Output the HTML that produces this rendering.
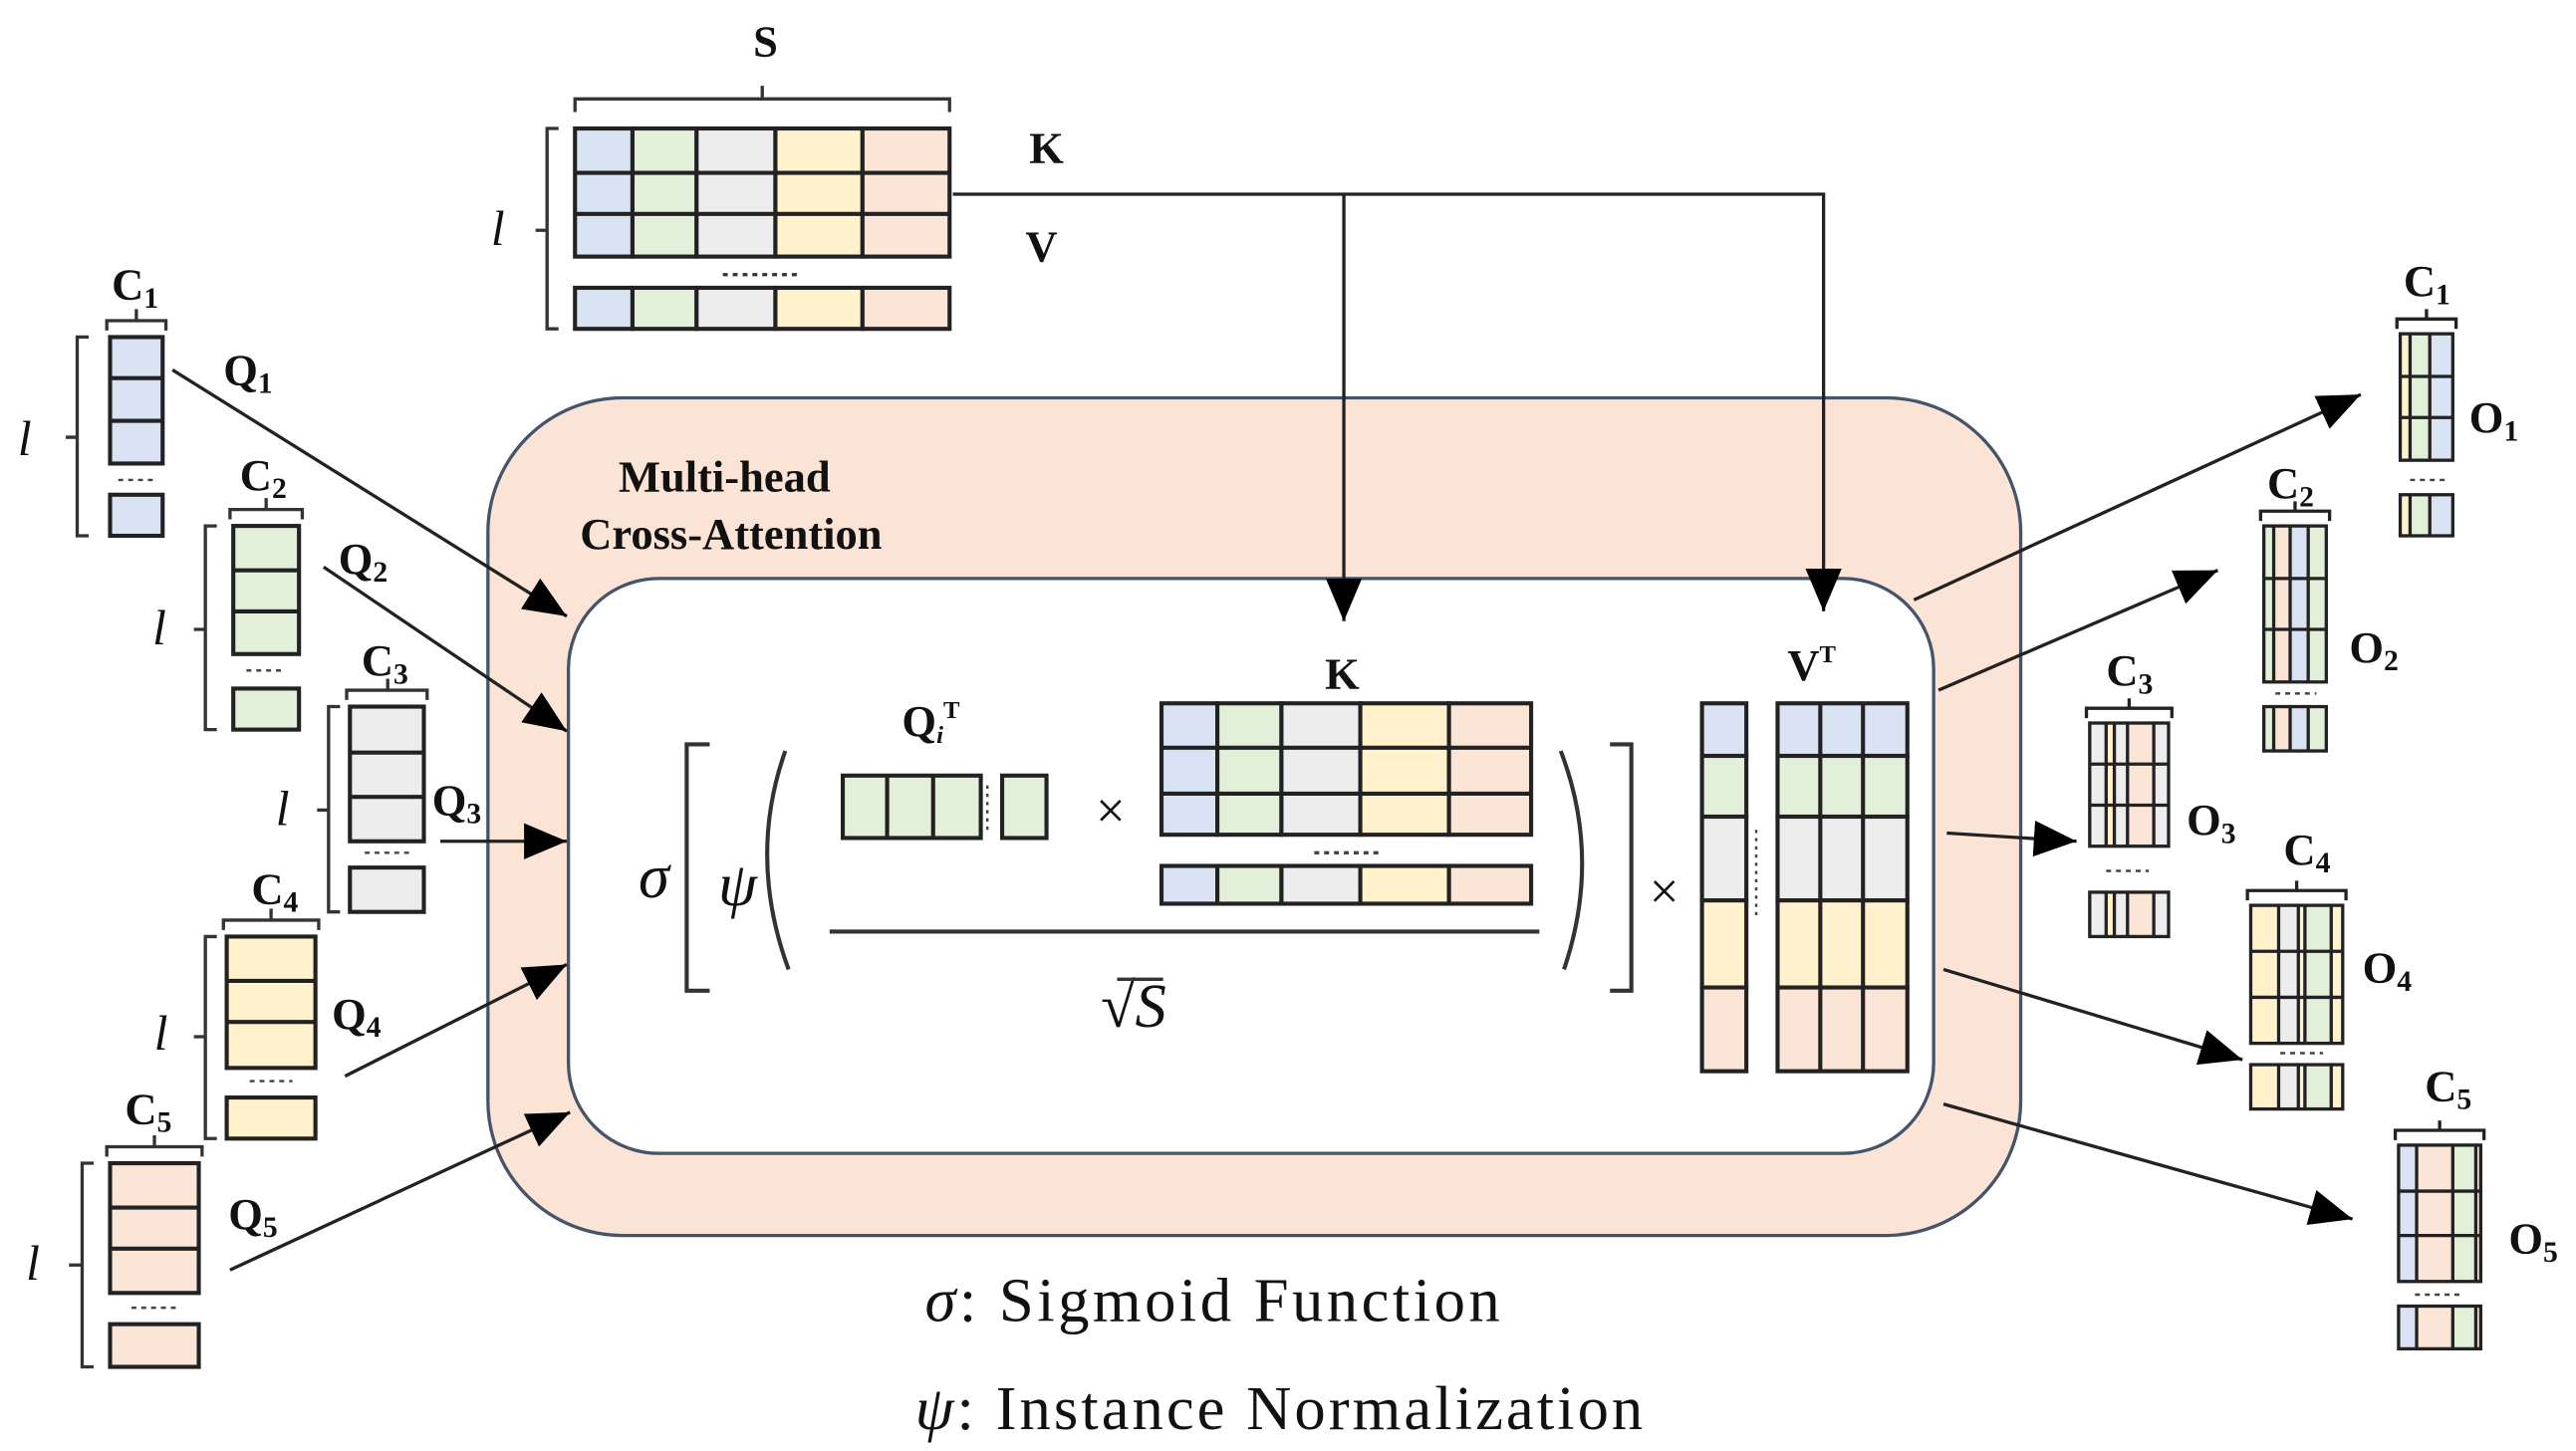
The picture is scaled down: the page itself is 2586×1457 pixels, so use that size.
<!DOCTYPE html>
<html><head><meta charset="utf-8"><style>
html,body{margin:0;padding:0;background:#fff}
svg{display:block}
text{font-family:"Liberation Serif",serif;fill:#111}
.b{font-weight:bold}
</style></head><body>
<svg width="2586" height="1457" viewBox="0 0 1568 883" xmlns="http://www.w3.org/2000/svg">
<defs>
<marker id="ah" markerUnits="userSpaceOnUse" markerWidth="30" markerHeight="24" refX="26" refY="11" orient="auto">
<path d="M0,0 L26,11 L0,22 Z" fill="#000"/></marker>
</defs>
<g stroke="#222" stroke-width="2" fill="none">
<rect x="297" y="242" width="933" height="510" rx="82" fill="#fbe4d5" stroke="#44546a"/>
<rect x="346" y="352" width="831" height="350" rx="55" fill="#fff" stroke="#44546a"/>
</g>

<g stroke="#222" stroke-width="2.5">
<rect x="350" y="78" width="35" height="78" fill="#dae3f3"/><rect x="385" y="78" width="39" height="78" fill="#e2f0d9"/><rect x="424" y="78" width="48" height="78" fill="#ededed"/><rect x="472" y="78" width="53" height="78" fill="#fff2cc"/><rect x="525" y="78" width="53" height="78" fill="#fbe5d6"/>
<line x1="350" y1="105" x2="578" y2="105"/><line x1="350" y1="130" x2="578" y2="130"/>
<rect x="350" y="175" width="35" height="25" fill="#dae3f3"/><rect x="385" y="175" width="39" height="25" fill="#e2f0d9"/><rect x="424" y="175" width="48" height="25" fill="#ededed"/><rect x="472" y="175" width="53" height="25" fill="#fff2cc"/><rect x="525" y="175" width="53" height="25" fill="#fbe5d6"/>
</g>
<line x1="440" y1="167" x2="485" y2="167" stroke="#333" stroke-width="2" stroke-dasharray="3,3"/>
<path d="M350,68 V60 H578 V68 M464,60 V52" stroke="#333" stroke-width="2" fill="none"/>
<path d="M340,78 H333 V200 H340 M326,140 H333" stroke="#333" stroke-width="2" fill="none"/>
<text x="466" y="34" font-size="27" class="b" text-anchor="middle">S</text>
<text x="303" y="149" font-size="30" font-style="italic" text-anchor="middle">l</text>
<text x="637" y="99" font-size="27" class="b" text-anchor="middle">K</text>
<text x="634" y="159" font-size="27" class="b" text-anchor="middle">V</text>

<g stroke="#222" stroke-width="2" fill="none">
<path d="M580,118 H1110 V372" marker-end="url(#ah)"/>
<path d="M818,118 V378" marker-end="url(#ah)"/>
</g>

<text x="441" y="299" font-size="27" class="b" text-anchor="middle">Multi-head</text>
<text x="445" y="334" font-size="27" class="b" text-anchor="middle">Cross-Attention</text>

<g stroke="#222" stroke-width="2.5">
<rect x="67" y="205" width="32" height="77" fill="#dae3f3"/><line x1="67" y1="230" x2="99" y2="230"/><line x1="67" y1="256" x2="99" y2="256"/>
<rect x="67" y="301" width="32" height="25" fill="#dae3f3"/>
<rect x="142" y="320" width="40" height="78" fill="#e2f0d9"/><line x1="142" y1="347" x2="182" y2="347"/><line x1="142" y1="372" x2="182" y2="372"/>
<rect x="142" y="419" width="40" height="25" fill="#e2f0d9"/>
<rect x="213" y="430" width="45" height="82" fill="#ededed"/><line x1="213" y1="458" x2="258" y2="458"/><line x1="213" y1="485" x2="258" y2="485"/>
<rect x="213" y="528" width="45" height="27" fill="#ededed"/>
<rect x="138" y="570" width="54" height="80" fill="#fff2cc"/><line x1="138" y1="597" x2="192" y2="597"/><line x1="138" y1="622" x2="192" y2="622"/>
<rect x="138" y="668" width="54" height="25" fill="#fff2cc"/>
<rect x="67" y="708" width="54" height="79" fill="#fbe5d6"/><line x1="67" y1="735" x2="121" y2="735"/><line x1="67" y1="760" x2="121" y2="760"/>
<rect x="67" y="806" width="54" height="26" fill="#fbe5d6"/>
</g>
<g stroke="#333" stroke-width="2" fill="none">
<path d="M65,201 V195 H101 V201 M83,195 V188"/><path d="M54,205 H47 V326 H54 M40,266 H47"/>
<path d="M140,316 V310 H184 V316 M162,310 V303"/><path d="M132,320 H125 V444 H132 M118,383 H125"/>
<path d="M211,426 V420 H260 V426 M236,420 V413"/><path d="M207,430 H200 V555 H207 M193,493 H200"/>
<path d="M136,566 V560 H194 V566 M165,560 V553"/><path d="M132,570 H125 V693 H132 M118,631 H125"/>
<path d="M65,704 V698 H123 V704 M94,698 V691"/><path d="M57,708 H50 V832 H57 M42,770 H50"/>
</g>
<g stroke="#444" stroke-width="1.5" stroke-dasharray="3,3">
<line x1="72" y1="292" x2="94" y2="292"/><line x1="150" y1="408" x2="174" y2="408"/><line x1="222" y1="519" x2="250" y2="519"/><line x1="152" y1="658" x2="178" y2="658"/><line x1="80" y1="796" x2="108" y2="796"/>
</g>
<g font-size="27" class="b">
<text x="68" y="182" class="b">C<tspan font-size="18" dy="5">1</tspan></text>
<text x="146" y="298" class="b">C<tspan font-size="18" dy="5">2</tspan></text>
<text x="220" y="411" class="b">C<tspan font-size="18" dy="5">3</tspan></text>
<text x="153" y="550" class="b">C<tspan font-size="18" dy="5">4</tspan></text>
<text x="76" y="684" class="b">C<tspan font-size="18" dy="5">5</tspan></text>
<text x="136" y="234" class="b">Q<tspan font-size="18" dy="5">1</tspan></text>
<text x="206" y="349" class="b">Q<tspan font-size="18" dy="5">2</tspan></text>
<text x="263" y="496" class="b">Q<tspan font-size="18" dy="5">3</tspan></text>
<text x="202" y="626" class="b">Q<tspan font-size="18" dy="5">4</tspan></text>
<text x="139" y="748" class="b">Q<tspan font-size="18" dy="5">5</tspan></text>
</g>
<g font-size="30" font-style="italic" text-anchor="middle">
<text x="15" y="277">l</text><text x="97" y="392">l</text><text x="172" y="502">l</text><text x="98" y="639">l</text><text x="20" y="779">l</text>
</g>
<g stroke="#222" stroke-width="2" fill="none">
<line x1="105" y1="225" x2="345" y2="375" marker-end="url(#ah)"/>
<line x1="197" y1="345" x2="345" y2="445" marker-end="url(#ah)"/>
<line x1="268" y1="512" x2="345" y2="512" marker-end="url(#ah)"/>
<line x1="210" y1="655" x2="345" y2="587" marker-end="url(#ah)"/>
<line x1="140" y1="773" x2="347" y2="677" marker-end="url(#ah)"/>
</g>

<text x="398" y="546" font-size="38" font-style="italic" text-anchor="middle">σ</text>
<text x="449" y="551" font-size="38" font-style="italic" text-anchor="middle">ψ</text>
<g stroke="#333" stroke-width="2.5" fill="none">
<path d="M432,453 H418 V603 H432"/>
<path d="M980,453 H993 V603 H980"/>
<path d="M478,457 Q455,522 480,590"/>
<path d="M950,457 Q975,522 952,590"/>
<line x1="505" y1="567" x2="937" y2="567"/>
</g>
<text x="549" y="448" font-size="27" class="b">Q<tspan font-size="15" font-style="italic" dy="4">i</tspan><tspan font-size="15" dy="-15">T</tspan></text>
<g stroke="#222" stroke-width="2.5">
<rect x="513" y="472" width="84" height="38" fill="#e2f0d9"/><line x1="540" y1="472" x2="540" y2="510"/><line x1="568" y1="472" x2="568" y2="510"/>
<rect x="610" y="472" width="27" height="38" fill="#e2f0d9"/>
</g>
<line x1="601" y1="478" x2="601" y2="505" stroke="#444" stroke-width="1.5" stroke-dasharray="2,3"/>
<text x="676" y="504" font-size="32" text-anchor="middle" fill="#444">×</text>
<text x="817" y="419" font-size="27" class="b" text-anchor="middle">K</text>
<g stroke="#222" stroke-width="2.5">
<rect x="707" y="428" width="34" height="80" fill="#dae3f3"/><rect x="741" y="428" width="39" height="80" fill="#e2f0d9"/><rect x="780" y="428" width="48" height="80" fill="#ededed"/><rect x="828" y="428" width="54" height="80" fill="#fff2cc"/><rect x="882" y="428" width="50" height="80" fill="#fbe5d6"/>
<line x1="707" y1="455" x2="932" y2="455"/><line x1="707" y1="483" x2="932" y2="483"/>
<rect x="707" y="527" width="34" height="23" fill="#dae3f3"/><rect x="741" y="527" width="39" height="23" fill="#e2f0d9"/><rect x="780" y="527" width="48" height="23" fill="#ededed"/><rect x="828" y="527" width="54" height="23" fill="#fff2cc"/><rect x="882" y="527" width="50" height="23" fill="#fbe5d6"/>
</g>
<line x1="800" y1="519" x2="842" y2="519" stroke="#444" stroke-width="2" stroke-dasharray="3,3"/>
<text x="690" y="625" font-size="38" font-style="italic" text-anchor="middle">√S</text>
<path d="M680,596 H708" stroke="#333" stroke-width="2"/>
<text x="1013" y="553" font-size="32" text-anchor="middle" fill="#444">×</text>
<text x="1088" y="414" font-size="27" class="b">V<tspan font-size="15" dy="-11">T</tspan></text>
<g stroke="#222" stroke-width="2.5">
<rect x="1036" y="428" width="27" height="32" fill="#dae3f3"/><rect x="1036" y="460" width="27" height="37" fill="#e2f0d9"/><rect x="1036" y="497" width="27" height="51" fill="#ededed"/><rect x="1036" y="548" width="27" height="53" fill="#fff2cc"/><rect x="1036" y="601" width="27" height="51" fill="#fbe5d6"/>
<rect x="1082" y="428" width="79" height="32" fill="#dae3f3"/><rect x="1082" y="460" width="79" height="37" fill="#e2f0d9"/><rect x="1082" y="497" width="79" height="51" fill="#ededed"/><rect x="1082" y="548" width="79" height="53" fill="#fff2cc"/><rect x="1082" y="601" width="79" height="51" fill="#fbe5d6"/>
<line x1="1108" y1="428" x2="1108" y2="652"/><line x1="1134" y1="428" x2="1134" y2="652"/>
</g>
<line x1="1069" y1="505" x2="1069" y2="560" stroke="#444" stroke-width="1.5" stroke-dasharray="2,3"/>

<g stroke="#222" stroke-width="2" fill="none">
<line x1="1165" y1="365" x2="1437" y2="240" marker-end="url(#ah)"/>
<line x1="1180" y1="420" x2="1350" y2="347" marker-end="url(#ah)"/>
<line x1="1185" y1="507" x2="1264" y2="512" marker-end="url(#ah)"/>
<line x1="1183" y1="590" x2="1365" y2="645" marker-end="url(#ah)"/>
<line x1="1183" y1="672" x2="1432" y2="742" marker-end="url(#ah)"/>
</g>

<g stroke="none">
<rect x="1461" y="203" width="6" height="77" fill="#fff2cc"/><rect x="1467" y="203" width="12" height="77" fill="#e2f0d9"/><rect x="1479" y="203" width="14" height="77" fill="#dae3f3"/>
<rect x="1461" y="301" width="6" height="25" fill="#fff2cc"/><rect x="1467" y="301" width="12" height="25" fill="#e2f0d9"/><rect x="1479" y="301" width="14" height="25" fill="#dae3f3"/>
<rect x="1378" y="320" width="6" height="95" fill="#e2f0d9"/><rect x="1384" y="320" width="10" height="95" fill="#fbe5d6"/><rect x="1394" y="320" width="11" height="95" fill="#dae3f3"/><rect x="1405" y="320" width="11" height="95" fill="#e2f0d9"/>
<rect x="1378" y="430" width="6" height="27" fill="#e2f0d9"/><rect x="1384" y="430" width="10" height="27" fill="#fbe5d6"/><rect x="1394" y="430" width="11" height="27" fill="#dae3f3"/><rect x="1405" y="430" width="11" height="27" fill="#e2f0d9"/>
<rect x="1272" y="440" width="10" height="75" fill="#ededed"/><rect x="1282" y="440" width="5" height="75" fill="#fff2cc"/><rect x="1287" y="440" width="8" height="75" fill="#ededed"/><rect x="1295" y="440" width="16" height="75" fill="#fbe5d6"/><rect x="1311" y="440" width="9" height="75" fill="#ededed"/>
<rect x="1272" y="543" width="10" height="27" fill="#ededed"/><rect x="1282" y="543" width="5" height="27" fill="#fff2cc"/><rect x="1287" y="543" width="8" height="27" fill="#ededed"/><rect x="1295" y="543" width="16" height="27" fill="#fbe5d6"/><rect x="1311" y="543" width="9" height="27" fill="#ededed"/>
<rect x="1370" y="551" width="17" height="84" fill="#fff2cc"/><rect x="1387" y="551" width="12" height="84" fill="#ededed"/><rect x="1399" y="551" width="4" height="84" fill="#fff2cc"/><rect x="1403" y="551" width="16" height="84" fill="#e2f0d9"/><rect x="1419" y="551" width="7" height="84" fill="#fff2cc"/>
<rect x="1370" y="648" width="17" height="27" fill="#fff2cc"/><rect x="1387" y="648" width="12" height="27" fill="#ededed"/><rect x="1399" y="648" width="4" height="27" fill="#fff2cc"/><rect x="1403" y="648" width="16" height="27" fill="#e2f0d9"/><rect x="1419" y="648" width="7" height="27" fill="#fff2cc"/>
<rect x="1460" y="697" width="11" height="83" fill="#dae3f3"/><rect x="1471" y="697" width="22" height="83" fill="#fbe5d6"/><rect x="1493" y="697" width="14" height="83" fill="#e2f0d9"/><rect x="1507" y="697" width="3" height="83" fill="#fbe5d6"/>
<rect x="1460" y="795" width="11" height="26" fill="#dae3f3"/><rect x="1471" y="795" width="22" height="26" fill="#fbe5d6"/><rect x="1493" y="795" width="14" height="26" fill="#e2f0d9"/><rect x="1507" y="795" width="3" height="26" fill="#fbe5d6"/>
</g>
<g stroke="#222" stroke-width="2" fill="none">
<rect x="1461" y="203" width="32" height="77"/><path d="M1461,229 H1493 M1461,254 H1493 M1467,203 V280 M1479,203 V280"/>
<rect x="1461" y="301" width="32" height="25"/><path d="M1467,301 V326 M1479,301 V326"/>
<rect x="1378" y="320" width="38" height="95"/><path d="M1378,352 H1416 M1378,383 H1416 M1384,320 V415 M1394,320 V415 M1405,320 V415"/>
<rect x="1378" y="430" width="38" height="27"/><path d="M1384,430 V457 M1394,430 V457 M1405,430 V457"/>
<rect x="1272" y="440" width="48" height="75"/><path d="M1272,465 H1320 M1272,490 H1320 M1282,440 V515 M1287,440 V515 M1295,440 V515 M1311,440 V515"/>
<rect x="1272" y="543" width="48" height="27"/><path d="M1282,543 V570 M1287,543 V570 M1295,543 V570 M1311,543 V570"/>
<rect x="1370" y="551" width="56" height="84"/><path d="M1370,579 H1426 M1370,607 H1426 M1387,551 V635 M1399,551 V635 M1403,551 V635 M1419,551 V635"/>
<rect x="1370" y="648" width="56" height="27"/><path d="M1387,648 V675 M1399,648 V675 M1403,648 V675 M1419,648 V675"/>
<rect x="1460" y="697" width="50" height="83"/><path d="M1460,725 H1510 M1460,752 H1510 M1471,697 V780 M1493,697 V780 M1507,697 V780"/>
<rect x="1460" y="795" width="50" height="26"/><path d="M1471,795 V821 M1493,795 V821 M1507,795 V821"/>
<path d="M1459,200 V194 H1495 V200 M1477,194 V188"/>
<path d="M1376,317 V311 H1418 V317 M1397,311 V305"/>
<path d="M1270,437 V431 H1322 V437 M1296,431 V425"/>
<path d="M1368,548 V542 H1428 V548 M1398,542 V536"/>
<path d="M1458,694 V688 H1512 V694 M1485,688 V682"/>
</g>
<g stroke="#444" stroke-width="1.5" stroke-dasharray="3,3">
<line x1="1467" y1="292" x2="1490" y2="292"/><line x1="1385" y1="422" x2="1410" y2="422"/><line x1="1282" y1="530" x2="1308" y2="530"/><line x1="1388" y1="641" x2="1414" y2="641"/><line x1="1470" y1="788" x2="1500" y2="788"/>
</g>
<g font-size="27" class="b">
<text x="1463" y="180" class="b">C<tspan font-size="18" dy="5">1</tspan></text>
<text x="1380" y="303" class="b">C<tspan font-size="18" dy="5">2</tspan></text>
<text x="1282" y="417" class="b">C<tspan font-size="18" dy="5">3</tspan></text>
<text x="1390" y="526" class="b">C<tspan font-size="18" dy="5">4</tspan></text>
<text x="1476" y="670" class="b">C<tspan font-size="18" dy="5">5</tspan></text>
<text x="1503" y="263" class="b">O<tspan font-size="18" dy="5">1</tspan></text>
<text x="1430" y="403" class="b">O<tspan font-size="18" dy="5">2</tspan></text>
<text x="1331" y="508" class="b">O<tspan font-size="18" dy="5">3</tspan></text>
<text x="1438" y="598" class="b">O<tspan font-size="18" dy="5">4</tspan></text>
<text x="1527" y="763" class="b">O<tspan font-size="18" dy="5">5</tspan></text>
</g>

<text x="563" y="804" font-size="38" textLength="350" lengthAdjust="spacing"><tspan font-style="italic">σ</tspan>: Sigmoid Function</text>
<text x="557" y="870" font-size="38" textLength="443" lengthAdjust="spacing"><tspan font-style="italic">ψ</tspan>: Instance Normalization</text>
</svg>
</body></html>
